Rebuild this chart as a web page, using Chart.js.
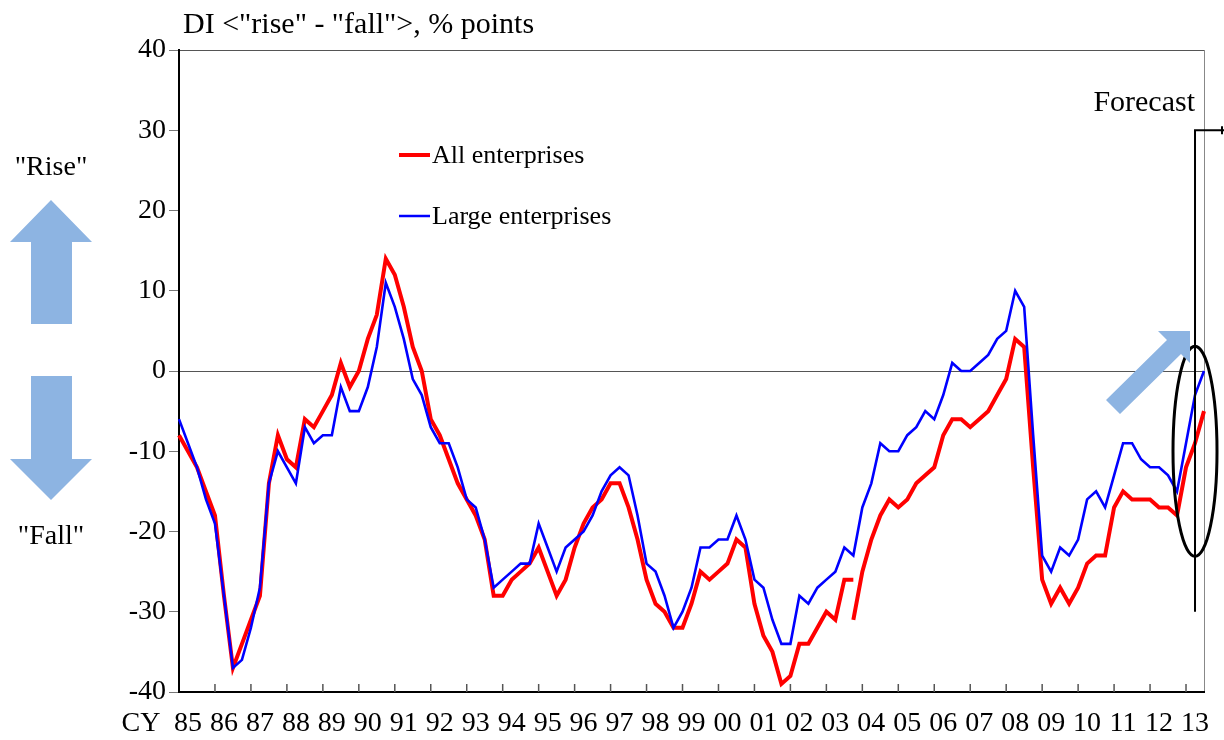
<!DOCTYPE html>
<html>
<head>
<meta charset="utf-8">
<title>Output prices DI</title>
<script src="https://cdn.jsdelivr.net/npm/chart.js@4.4.0/dist/chart.umd.min.js"></script>
<style>
  html, body { margin: 0; padding: 0; background: #fff; }
  #wrap { position: relative; width: 1224px; height: 740px; }
</style>
</head>
<body>
<div id="wrap"><canvas id="chart" width="1224" height="740"></canvas></div>
<script>
// calendar years on the axis (one label per year)
const years = ['85', '86', '87', '88', '89', '90', '91', '92', '93', '94', '95', '96', '97', '98', '99',
               '00', '01', '02', '03', '04', '05', '06', '07', '08', '09', '10', '11', '12', '13'];

// All enterprises, old basis: 1985 Q1 - 2003 Q4
const allEnterprisesOld = [
  -8, -10, -12, -15, -18, -28, -37, -34, -31, -28,
  -14, -8, -11, -12, -6, -7, -5, -3, 1, -2,
  0, 4, 7, 14, 12, 8, 3, 0, -6, -8,
  -11, -14, -16, -18, -21, -28, -28, -26, -25, -24,
  -22, -25, -28, -26, -22, -19, -17, -16, -14, -14,
  -17, -21, -26, -29, -30, -32, -32, -29, -25, -26,
  -25, -24, -21, -22, -29, -33, -35, -39, -38, -34,
  -34, -32, -30, -31, -26, -26
];

// All enterprises, new basis: 2003 Q4 - 2013 Q3 (last one is the forecast)
const allEnterprisesNew = [
  -31, -25, -21, -18, -16, -17, -16, -14, -13, -12,
  -8, -6, -6, -7, -6, -5, -3, -1, 4, 3,
  -12, -26, -29, -27, -29, -27, -24, -23, -23, -17,
  -15, -16, -16, -16, -17, -17, -18, -12, -9, -5
];

// Large enterprises: 1985 Q1 - 2013 Q3
const largeEnterprises = [
  -6, -9, -12, -16, -19, -28, -37, -36, -32, -27,
  -14, -10, -12, -14, -7, -9, -8, -8, -2, -5,
  -5, -2, 3, 11, 8, 4, -1, -3, -7, -9,
  -9, -12, -16, -17, -21, -27, -26, -25, -24, -24,
  -19, -22, -25, -22, -21, -20, -18, -15, -13, -12,
  -13, -18, -24, -25, -28, -32, -30, -27, -22, -22,
  -21, -21, -18, -21, -26, -27, -31, -34, -34, -28,
  -29, -27, -26, -25, -22, -23, -17, -14, -9, -10,
  -10, -8, -7, -5, -6, -3, 1, 0, 0, 1,
  2, 4, 5, 10, 8, -8, -23, -25, -22, -23,
  -21, -16, -15, -17, -13, -9, -9, -11, -12, -12,
  -13, -15, -9, -3, 0
];

const yMin = -40, yMax = 40, yStep = 10;

const N = largeEnterprises.length;
const quarterLabels = [];
for (let i = 0; i < N; i++) {
  quarterLabels.push(years[Math.floor(i / 4)] + ' Q' + (i % 4 + 1));
}
const forecastIndex = N - 2; // last actual survey
const redOld = allEnterprisesOld.concat(new Array(N - allEnterprisesOld.length).fill(null));
const redNew = new Array(N - allEnterprisesNew.length).fill(null).concat(allEnterprisesNew);

const serif = "'Liberation Serif', 'Times New Roman', serif";
Chart.defaults.font.family = serif;
Chart.defaults.font.size = 28;
Chart.defaults.color = '#000';

const arrowBlue = '#8db4e2';

function blockArrow(ctx, pts) {
  ctx.beginPath();
  ctx.moveTo(pts[0][0], pts[0][1]);
  for (let i = 1; i < pts.length; i++) ctx.lineTo(pts[i][0], pts[i][1]);
  ctx.closePath();
  ctx.fill();
}

const decorations = {
  id: 'decorations',
  afterDatasetsDraw(chart) {
    const { ctx, chartArea, scales: { x, y } } = chart;
    ctx.save();

    // tick marks on the year boundaries, pointing into the plot
    ctx.strokeStyle = '#555';
    ctx.lineWidth = 1.5;
    for (let i = 4; i < N; i += 4) {
      const px = x.getPixelForValue(i);
      ctx.beginPath();
      ctx.moveTo(px, chartArea.bottom);
      ctx.lineTo(px, chartArea.bottom - 8);
      ctx.stroke();
    }

    // forecast bracket
    const fx = x.getPixelForValue(forecastIndex);
    const fTop = y.getPixelForValue(30);
    ctx.strokeStyle = '#000';
    ctx.lineWidth = 2;
    ctx.beginPath();
    ctx.moveTo(fx, y.getPixelForValue(-30));
    ctx.lineTo(fx, fTop);
    ctx.lineTo(chart.width, fTop);
    ctx.stroke();
    ctx.beginPath();
    ctx.moveTo(chart.width - 2, fTop - 4);
    ctx.lineTo(chart.width - 2, fTop + 4);
    ctx.stroke();

    // ellipse round the latest turn
    ctx.lineWidth = 3;
    ctx.beginPath();
    ctx.ellipse(fx, y.getPixelForValue(-10), 22, 105, 0, 0, Math.PI * 2);
    ctx.stroke();

    // diagonal "up" arrow
    ctx.fillStyle = arrowBlue;
    blockArrow(ctx, [[1106, 400], [1167, 340], [1158, 331], [1190, 331], [1190, 363], [1181, 354], [1120, 414]]);

    // left side arrows
    blockArrow(ctx, [[51, 200], [92, 242], [72, 242], [72, 324], [31, 324], [31, 242], [10, 242]]);
    blockArrow(ctx, [[31, 376], [72, 376], [72, 459], [92, 459], [51, 500], [10, 459], [31, 459]]);

    // texts
    ctx.fillStyle = '#000';
    ctx.textBaseline = 'middle';
    ctx.font = '30px ' + serif;
    ctx.textAlign = 'left';
    ctx.fillText('DI <"rise" - "fall">, % points', chartArea.left + 4, 25);
    ctx.textAlign = 'right';
    ctx.fillText('Forecast', fx, 103);
    ctx.font = '28px ' + serif;
    ctx.textAlign = 'center';
    ctx.fillText('"Rise"', 51, 168);
    ctx.fillText('"Fall"', 51, 537);
    ctx.fillText('CY', chartArea.left - 38, chartArea.bottom + 32);

    // legend
    const lx = chartArea.left + 220;
    ctx.font = '26px ' + serif;
    ctx.textAlign = 'left';
    ctx.lineWidth = 4;
    ctx.strokeStyle = '#ff0000';
    ctx.beginPath(); ctx.moveTo(lx, 155); ctx.lineTo(lx + 31, 155); ctx.stroke();
    ctx.fillText('All enterprises', lx + 33, 156);
    ctx.lineWidth = 2.5;
    ctx.strokeStyle = '#0000ff';
    ctx.beginPath(); ctx.moveTo(lx, 216); ctx.lineTo(lx + 31, 216); ctx.stroke();
    ctx.fillText('Large enterprises', lx + 33, 217);

    ctx.restore();
  }
};

new Chart(document.getElementById('chart'), {
  type: 'line',
  data: {
    labels: quarterLabels,
    datasets: [
      { label: 'Large enterprises', data: largeEnterprises, borderColor: '#0000ff', borderWidth: 2.6, pointRadius: 0, tension: 0 },
      { label: 'All enterprises', data: redOld, borderColor: '#ff0000', borderWidth: 4, pointRadius: 0, tension: 0 },
      { label: 'All enterprises (new basis)', data: redNew, borderColor: '#ff0000', borderWidth: 4, pointRadius: 0, tension: 0 }
    ]
  },
  options: {
    responsive: false,
    animation: false,
    layout: { padding: { top: 50, right: 20, left: 0, bottom: 0 } },
    plugins: { legend: { display: false }, tooltip: { enabled: false } },
    scales: {
      x: {
        type: 'category',
        offset: false,
        border: { display: true, color: '#000', width: 2 },
        grid: {
          drawTicks: false,
          offset: false,
          color: (c) => c.index === N - 1 ? '#888' : 'rgba(0,0,0,0)'
        },
        ticks: {
          autoSkip: false,
          maxRotation: 0,
          minRotation: 0,
          padding: 15,
          callback: (value, index) => index % 4 === 1 ? years[(index - 1) / 4] : ''
        },
        afterFit: (s) => { s.height = 48; }
      },
      y: {
        min: yMin,
        max: yMax,
        border: { display: true, color: '#000', width: 2 },
        grid: {
          tickLength: 10,
          tickColor: '#777',
          color: (c) => (c.tick.value === 0 || c.tick.value === yMax) ? '#555' : 'rgba(0,0,0,0)'
        },
        ticks: { stepSize: yStep, padding: 3 },
        afterFit: (s) => { s.width = 179; }
      }
    }
  },
  plugins: [decorations]
});
</script>
</body>
</html>
